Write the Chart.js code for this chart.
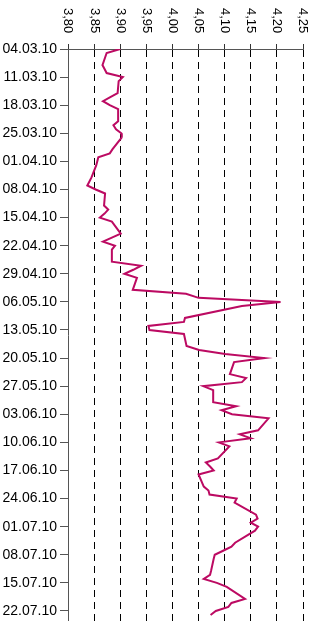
<!DOCTYPE html>
<html>
<head>
<meta charset="utf-8">
<script src="https://cdn.jsdelivr.net/npm/chart.js@4/dist/chart.umd.min.js"></script>
<style>
  html, body { margin: 0; padding: 0; background: #fff; }
  #wrap { width: 320px; height: 621px; position: relative; }
</style>
</head>
<body>
<div id="wrap"><canvas id="c"></canvas></div>
<script>
// Trading days (dd.mm.yy) and the closing value on each day
const dates = [
  '04.03.10','05.03.10',
  '08.03.10','09.03.10','10.03.10','11.03.10','12.03.10',
  '15.03.10','16.03.10','17.03.10','18.03.10','19.03.10',
  '22.03.10','23.03.10','24.03.10','25.03.10','26.03.10',
  '29.03.10','30.03.10','31.03.10','01.04.10','02.04.10',
  '05.04.10','06.04.10','07.04.10','08.04.10','09.04.10',
  '12.04.10','13.04.10','14.04.10','15.04.10','16.04.10',
  '19.04.10','20.04.10','21.04.10','22.04.10','23.04.10',
  '26.04.10','27.04.10','28.04.10','29.04.10','30.04.10',
  '03.05.10','04.05.10','05.05.10','06.05.10','07.05.10',
  '10.05.10','11.05.10','12.05.10','13.05.10','14.05.10',
  '17.05.10','18.05.10','19.05.10','20.05.10','21.05.10',
  '24.05.10','25.05.10','26.05.10','27.05.10','28.05.10',
  '31.05.10','01.06.10','02.06.10','03.06.10','04.06.10',
  '07.06.10','08.06.10','09.06.10','10.06.10','11.06.10',
  '14.06.10','15.06.10','16.06.10','17.06.10','18.06.10',
  '21.06.10','22.06.10','23.06.10','24.06.10','25.06.10',
  '28.06.10','29.06.10','30.06.10','01.07.10','02.07.10',
  '05.07.10','06.07.10','07.07.10','08.07.10','09.07.10',
  '12.07.10','13.07.10','14.07.10','15.07.10','16.07.10',
  '19.07.10','20.07.10','21.07.10','22.07.10','23.07.10'
];
const values = [
  3.900, 3.874,
  3.866, 3.870, 3.874, 3.905, 3.897,
  3.895, 3.881, 3.867, 3.880, 3.896,
  3.896, 3.887, 3.892, 3.902, 3.903,
  3.885, 3.880, 3.858, 3.856, 3.854,
  3.845, 3.841, 3.837, 3.853, 3.871,
  3.869, 3.877, 3.870, 3.861, 3.884,
  3.901, 3.884, 3.867, 3.890, 3.884,
  3.884, 3.940, 3.925, 3.908, 3.932,
  3.924, 4.026, 4.050, 4.207, 4.133,
  4.024, 4.022, 3.954, 3.956, 4.022,
  4.027, 4.051, 4.101, 4.176, 4.118,
  4.110, 4.141, 4.133, 4.059, 4.078,
  4.078, 4.122, 4.094, 4.114, 4.184,
  4.164, 4.129, 4.150, 4.089, 4.109,
  4.087, 4.064, 4.072, 4.079, 4.050,
  4.060, 4.069, 4.071, 4.123, 4.119,
  4.160, 4.163, 4.150, 4.164, 4.158,
  4.120, 4.113, 4.097, 4.081, 4.079,
  4.074, 4.072, 4.060, 4.085, 4.104,
  4.139, 4.113, 4.107, 4.083, 4.073
];
// Weekly labels on the date axis
const weekLabels = [
  '04.03.10','11.03.10','18.03.10','25.03.10','01.04.10','08.04.10','15.04.10',
  '22.04.10','29.04.10','06.05.10','13.05.10','20.05.10','27.05.10','03.06.10',
  '10.06.10','17.06.10','24.06.10','01.07.10','08.07.10','15.07.10','22.07.10'
];
// Value axis ticks and their labels
const valueTicks = [3.80, 3.85, 3.90, 3.95, 4.00, 4.05, 4.10, 4.15, 4.20, 4.25];
const valueTickLabels = ['3,80','3,85','3,90','3,95','4,00','4,05','4,10','4,15','4,20','4,25'];

const FONT = '"Liberation Sans", Arial, sans-serif';
const DAY = 86400000;
const BASE = Date.UTC(2010, 2, 4);
function dayOffset(s) {
  const [dd, mm, yy] = s.split('.').map(Number);
  return Math.round((Date.UTC(2000 + yy, mm - 1, dd) - BASE) / DAY);
}

const points = dates.map((d, i) => ({ x: values[i], y: dayOffset(d) }));

// Value labels on the top axis, written top-to-bottom
const topLabels = {
  id: 'topLabels',
  afterDraw(chart) {
    const sx = chart.scales.x;
    const ctx = chart.ctx;
    ctx.save();
    ctx.fillStyle = '#000';
    ctx.font = '13px ' + FONT;
    ctx.textAlign = 'left';
    ctx.textBaseline = 'middle';
    valueTicks.forEach((v, i) => {
      const x = sx.getPixelForValue(v);
      ctx.save();
      ctx.translate(x, 8);
      ctx.rotate(Math.PI / 2);
      ctx.fillText(valueTickLabels[i], 0, 0);
      ctx.restore();
    });
    ctx.restore();
  }
};

new Chart(document.getElementById('c'), {
  type: 'line',
  data: {
    datasets: [{
      data: points,
      borderColor: '#BC0A62',
      borderWidth: 2,
      pointRadius: 0,
      tension: 0,
      fill: false
    }]
  },
  options: {
    responsive: true,
    maintainAspectRatio: false,
    animation: false,
    indexAxis: 'y',
    layout: { padding: { top: 1, right: 17, bottom: 0, left: 0 } },
    plugins: { legend: { display: false }, tooltip: { enabled: false } },
    scales: {
      x: {
        type: 'linear',
        position: 'top',
        min: 3.80,
        max: 4.25,
        afterBuildTicks(scale) { scale.ticks = valueTicks.map(v => ({ value: v })); },
        afterFit(scale) { scale.height = 48; scale.paddingLeft = 0; scale.paddingRight = 0; },
        ticks: { display: false },
        grid: {
          color: (c) => c.index === 0 ? 'rgba(0,0,0,0)' : '#000',
          lineWidth: 1,
          tickColor: '#333',
          tickLength: 5,
          drawTicks: true
        },
        border: { display: true, color: '#555', width: 1, dash: [7, 5] }
      },
      y: {
        type: 'linear',
        reverse: true,
        min: 0,
        max: 142.5,
        afterBuildTicks(scale) { scale.ticks = weekLabels.map(l => ({ value: dayOffset(l) })); },
        afterFit(scale) { scale.width = 68; scale.paddingTop = 0; scale.paddingBottom = 0; },
        ticks: {
          autoSkip: false,
          padding: 3,
          color: '#000',
          font: { family: FONT, size: 14 },
          callback: (v, i) => weekLabels[i]
        },
        grid: {
          drawOnChartArea: false,
          drawTicks: true,
          tickLength: 8,
          color: '#555'
        },
        border: { display: true, color: '#555', width: 1 }
      }
    }
  },
  plugins: [topLabels]
});
</script>
</body>
</html>
